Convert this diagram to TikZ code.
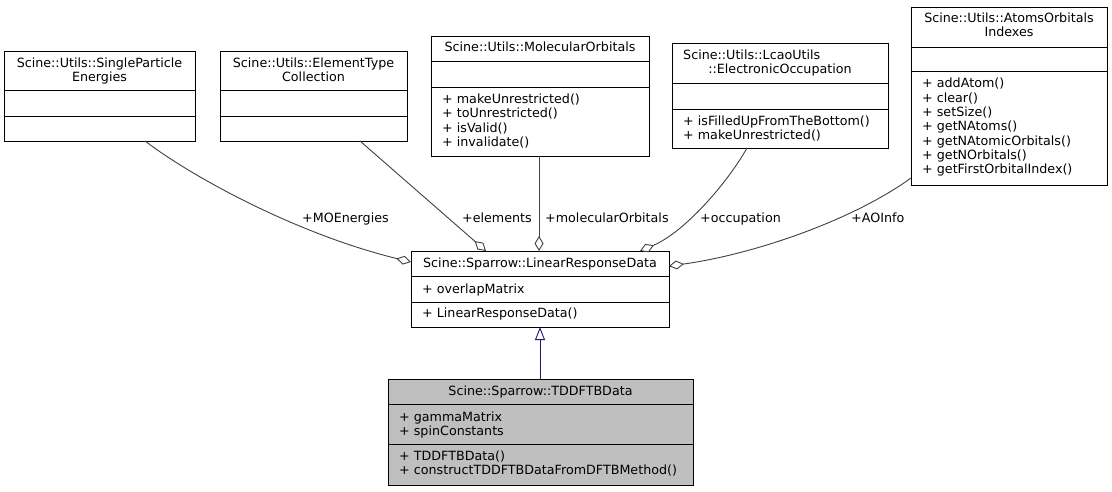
\documentclass[tikz,border=0pt]{standalone}
\usepackage{fontspec}
\setmainfont{DejaVu Sans}
\usetikzlibrary{arrows.meta}
\definecolor{edgegrey}{HTML}{404040}
\definecolor{inhblue}{HTML}{191970}
\definecolor{curfill}{HTML}{BFBFBF}
\newcommand\fsz{\fontsize{12.7}{14.3}\selectfont}
\newcommand\umllines[5]{%
  \foreach \t [count=\i] in {#5} {\node[#4] (#1\i) at ({#2},{#3+14.3*(\i-1)}) {\t};}}
\tikzset{
  classbox/.style={draw=black, line width=0.9pt, inner sep=0pt, outer sep=0pt, fill=white, anchor=north west},
  divider/.style={draw=black, line width=0.9pt},
  titletext/.style={inner sep=0pt, anchor=base, font=\fsz},
  member/.style={inner sep=0pt, anchor=base west, font=\fsz},
  elabel/.style={inner sep=0pt, anchor=base west, font=\fsz},
  agg/.style={draw=edgegrey, line width=0.9pt, -{Diamond[length=15pt,width=9pt,fill=white]}},
  inh/.style={draw=inhblue, line width=0.9pt, -{Triangle[length=13pt,width=10pt,fill=white]}},
}
\begin{document}
\begin{tikzpicture}[x=1pt,y=-1pt]
\useasboundingbox (0,0) rectangle (1112,491);
% boxes
\node[classbox, minimum width=191pt, minimum height=90pt] (sp) at (4,51) {};
\node[classbox, minimum width=187pt, minimum height=90pt] (et) at (220,51) {};
\node[classbox, minimum width=218pt, minimum height=120pt] (mo) at (431,36) {};
\node[classbox, minimum width=216pt, minimum height=105pt] (eo) at (672,43) {};
\node[classbox, minimum width=196pt, minimum height=178pt] (aoi) at (911,7) {};
\node[classbox, minimum width=258pt, minimum height=76pt] (lrd) at (411,251) {};
\node[classbox, minimum width=305pt, minimum height=106pt, fill=curfill] (td) at (388,379) {};
% dividers
\draw[divider] (sp.west |- 0,90) -- (sp.east |- 0,90);
\draw[divider] (sp.west |- 0,116) -- (sp.east |- 0,116);
\draw[divider] (et.west |- 0,90) -- (et.east |- 0,90);
\draw[divider] (et.west |- 0,116) -- (et.east |- 0,116);
\draw[divider] (mo.west |- 0,61) -- (mo.east |- 0,61);
\draw[divider] (mo.west |- 0,87) -- (mo.east |- 0,87);
\draw[divider] (eo.west |- 0,83) -- (eo.east |- 0,83);
\draw[divider] (eo.west |- 0,109) -- (eo.east |- 0,109);
\draw[divider] (aoi.west |- 0,47) -- (aoi.east |- 0,47);
\draw[divider] (aoi.west |- 0,71) -- (aoi.east |- 0,71);
\draw[divider] (lrd.west |- 0,276) -- (lrd.east |- 0,276);
\draw[divider] (lrd.west |- 0,302) -- (lrd.east |- 0,302);
\draw[divider] (td.west |- 0,404) -- (td.east |- 0,404);
\draw[divider] (td.west |- 0,444) -- (td.east |- 0,444);
% texts
\node[titletext] (spt1) at (99.5,67.2) {Scine::Utils::SingleParticle};
\node[titletext] (spt2) at (99.5,81.2) {Energies};
\node[titletext] (ett1) at (313.5,67.2) {Scine::Utils::ElementType};
\node[titletext] (ett2) at (313.5,81.2) {Collection};
\node[titletext] (mot) at (540,51.8) {Scine::Utils::MolecularOrbitals};
\umllines{mom}{442}{103.5}{member}{+ makeUnrestricted(),+ toUnrestricted(),+ isValid(),+ invalidate()}
\node[member] (eot1) at (683,59.5) {Scine::Utils::LcaoUtils};
\node[titletext] (eot2) at (780,73.8) {::ElectronicOccupation};
\umllines{eom}{683}{125.2}{member}{+ isFilledUpFromTheBottom(),+ makeUnrestricted()}
\node[titletext] (aoit1) at (1009,22.8) {Scine::Utils::AtomsOrbitals};
\node[titletext] (aoit2) at (1009,36.8) {Indexes};
\umllines{aoim}{922}{87.8}{member}{+ addAtom(),+ clear(),+ setSize(),+ getNAtoms(),+ getNAtomicOrbitals(),+ getNOrbitals(),+ getFirstOrbitalIndex()}
\node[titletext] (lrdt) at (540,267.8) {Scine::Sparrow::LinearResponseData};
\node[member] (lrda1) at (422,293.5) {+ overlapMatrix};
\node[member] (lrdm1) at (422,317.8) {+ LinearResponseData()};
\node[titletext] (tdt) at (540.5,395.2) {Scine::Sparrow::TDDFTBData};
\umllines{tda}{399}{421.2}{member}{+ gammaMatrix,+ spinConstants}
\umllines{tdm}{399}{460.5}{member}{+ TDDFTBData(),+ constructTDDFTBDataFromDFTBMethod()}
% edges
\draw[agg] (sp.south -| 145,0) .. controls (195,179) and (300,235) .. (lrd.west |- 0,262);
\draw[agg] (et.south -| 360,0) -- (lrd.north -| 486,0);
\draw[agg] (mo.south -| 539,0) -- (lrd.north -| 539,0);
\draw[agg] (eo.south -| 747,0) .. controls (728,182) and (685,232) .. (lrd.north -| 640,0);
\draw[agg] (aoi.west |- 0,178) .. controls (850,222) and (750,255) .. (lrd.east |- 0,266);
\draw[inh] (td.north -| 540,0) -- (lrd.south -| 540,0);
% edge labels
\node[elabel] (l1) at (302,222.2) {+MOEnergies};
\node[elabel] (l2) at (462,222.2) {+elements};
\node[elabel] (l3) at (545,222.2) {+molecularOrbitals};
\node[elabel] (l4) at (700,222.2) {+occupation};
\node[elabel] (l5) at (851,222.2) {+AOInfo};
\end{tikzpicture}
\end{document}
